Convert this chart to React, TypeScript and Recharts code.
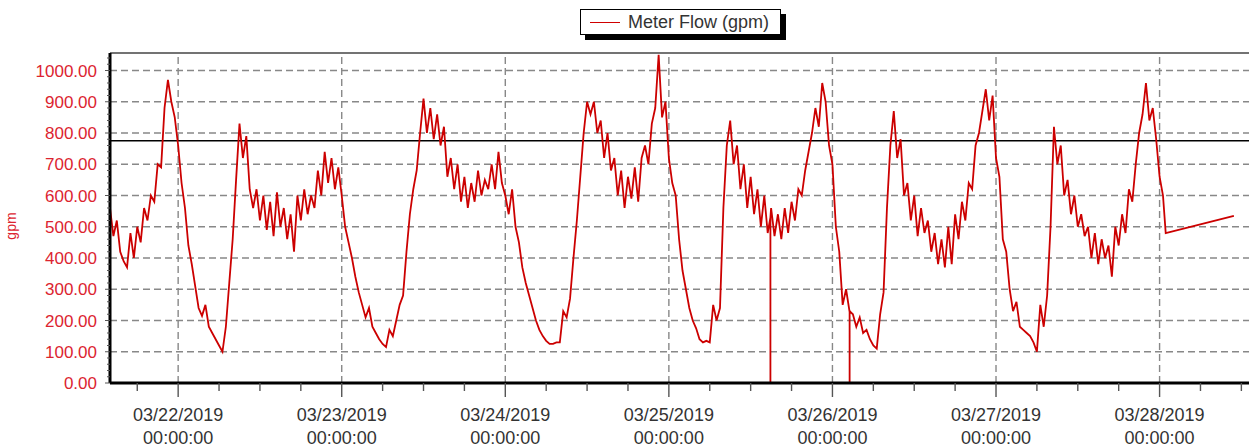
import React from 'react';
import { LineChart, Line, XAxis, YAxis, ReferenceLine } from 'recharts';

// Hours relative to 03/22/2019 00:00:00; series sampled every 30 minutes
const startHour = -10;
const stepHours = 0.5;

const flow0321 = [560, 470, 520, 420, 390, 370, 480, 400, 500, 450, 560, 520, 600, 580, 700, 690, 880, 970, 900, 850];
const flow0322 = [
  760, 640, 560, 440, 380, 310, 240, 215, 250, 180, 160, 140,
  120, 100, 180, 320, 460, 650, 830, 720, 790, 620, 560, 620,
  520, 600, 490, 580, 470, 610, 500, 560, 460, 540, 420, 600,
  520, 620, 540, 600, 560, 680, 600, 740, 640, 720, 620, 690,
];
const flow0323 = [
  600, 500, 450, 400, 340, 290, 250, 210, 240, 180, 160, 140,
  125, 115, 170, 150, 200, 250, 280, 420, 540, 620, 680, 800,
  910, 800, 880, 780, 860, 760, 820, 660, 720, 620, 700, 580,
  660, 560, 640, 580, 680, 600, 650, 620, 700, 620, 740, 640,
];
const flow0324 = [
  600, 540, 620, 500, 450, 370, 320, 280, 240, 200, 170, 150,
  135, 125, 125, 130, 130, 230, 210, 270, 400, 520, 660, 800,
  900, 860, 900, 800, 840, 720, 800, 680, 720, 600, 680, 560,
  660, 590, 690, 580, 720, 760, 700, 830, 880, 1050, 850, 900,
];
const flow0325 = [
  720, 640, 600, 460, 360, 300, 240, 200, 175, 140, 130, 135,
  130, 250, 200, 240, 560, 760, 840, 700, 760, 620, 700, 560,
  660, 540, 620, 500, 600, 480, 560, 470, 540, 460, 560, 480,
  580, 520, 620, 600, 680, 740, 800, 880, 820, 960, 900, 760,
];
const flow0326 = [
  700, 500, 420, 250, 300, 230, 220, 180, 210, 160, 170, 140,
  120, 110, 220, 290, 560, 760, 870, 720, 780, 600, 640, 520,
  600, 470, 560, 480, 520, 420, 480, 380, 460, 370, 500, 380,
  540, 460, 580, 520, 640, 620, 760, 800, 870, 940, 840, 920,
];
const flow0327 = [
  720, 660, 460, 420, 300, 230, 260, 180, 170, 160, 150, 130,
  100, 250, 180, 280, 500, 820, 700, 760, 600, 650, 540, 600,
  500, 540, 470, 500, 400, 480, 380, 460, 400, 440, 340, 500,
  440, 540, 480, 620, 580, 700, 800, 860, 960, 840, 880, 780,
];
const flow0328 = [660, 600];

// momentary drops to zero (hour, level around the drop)
const dropoutHours = [86.9, 98.52];
const dropoutLevels = [530, 230];

// straight segment at the end of the record
const tailHours = [144.9, 154.9];
const tailValues = [480, 535];

const thresholdValue = 775;
const yMax = 1056;
const xDomain = [-10, 158];

const dayTicks = [0, 24, 48, 72, 96, 120, 144];
const dayLabels = ['03/22/2019', '03/23/2019', '03/24/2019', '03/25/2019', '03/26/2019', '03/27/2019', '03/28/2019'];
const timeLabel = '00:00:00';
const sixHourTicks = [-6, 0, 6, 12, 18, 24, 30, 36, 42, 48, 54, 60, 66, 72, 78, 84, 90, 96, 102, 108, 114, 120, 126, 132, 138, 144, 150, 156];
const yGridValues = [100, 200, 300, 400, 500, 600, 700, 800, 900, 1000];
const yTicks = Array.from({ length: 53 }, (_, i) => i * 20);

const seriesValues = [...flow0321, ...flow0322, ...flow0323, ...flow0324, ...flow0325, ...flow0326, ...flow0327, ...flow0328];
const points: { t: number; v: number }[] = seriesValues.map((v, i) => ({ t: startHour + i * stepHours, v }));
dropoutHours.forEach((t, i) => {
  points.push({ t, v: dropoutLevels[i] }, { t, v: 0 }, { t, v: dropoutLevels[i] });
});
tailHours.forEach((t, i) => points.push({ t, v: tailValues[i] }));
points.sort((a, b) => a.t - b.t);

const FONT = 'Liberation Sans, Arial, sans-serif';
const RED_TEXT = '#dc2430';
const LINE_RED = '#cc0000';
const GRID = '#888888';

const XTick = (props: any) => {
  const { x, y, payload } = props;
  const v = payload.value;
  const idx = dayTicks.indexOf(v);
  const major = idx >= 0;
  return (
    <g>
      <line x1={x} y1={y} x2={x} y2={y + (major ? 14 : 8)} stroke="#555" strokeWidth={1.4} />
      {major && (
        <text x={x} y={y} textAnchor="middle" fill="#333" fontSize={18} fontFamily={FONT}>
          <tspan x={x} dy={37.5}>{dayLabels[idx]}</tspan>
          <tspan x={x} dy={23.5}>{timeLabel}</tspan>
        </text>
      )}
    </g>
  );
};

const YTick = (props: any) => {
  const { x, y, payload } = props;
  const v = payload.value;
  const major = v % 100 === 0 && v <= 1000;
  return (
    <g>
      <line x1={x} y1={y} x2={x - (major ? 5 : 3)} y2={y} stroke="#555" strokeWidth={1} />
      {major && (
        <text x={x - 13} y={y} dy="0.36em" textAnchor="end" fill={RED_TEXT} fontSize={17} fontFamily={FONT}>
          {v.toFixed(2)}
        </text>
      )}
    </g>
  );
};

const GpmLabel = () => (
  <text x={16} y={226} transform="rotate(-90 16 226)" textAnchor="middle" fill={RED_TEXT} fontSize={14} fontFamily={FONT}>
    gpm
  </text>
);

export default function App() {
  return (
    <div style={{ position: 'fixed', left: 0, top: 0, width: 1249, height: 447, overflow: 'hidden', background: '#fff' }}>
      <LineChart width={1260} height={447} data={points} margin={{ top: 53, right: 5, bottom: 0, left: 0 }}>
        <XAxis
          dataKey="t"
          type="number"
          domain={xDomain}
          ticks={sixHourTicks}
          interval={0}
          height={64}
          tickSize={0}
          tickMargin={0}
          tickLine={false}
          axisLine={{ stroke: '#000', strokeWidth: 3 }}
          tick={<XTick />}
          allowDataOverflow
        />
        <YAxis
          type="number"
          domain={[0, yMax]}
          ticks={yTicks}
          interval={0}
          width={110}
          tickSize={0}
          tickMargin={0}
          tickLine={false}
          axisLine={{ stroke: '#000', strokeWidth: 3 }}
          tick={<YTick />}
          label={<GpmLabel />}
          allowDataOverflow
        />
        {yGridValues.map((v) => (
          <ReferenceLine key={'gy' + v} y={v} stroke={GRID} strokeWidth={1.4} strokeDasharray="7 4" />
        ))}
        {dayTicks.map((d) => (
          <ReferenceLine key={'gx' + d} x={d} stroke={GRID} strokeWidth={1.4} strokeDasharray="7 4" />
        ))}
        <ReferenceLine y={yMax} stroke="#444" strokeWidth={1.6} />
        <ReferenceLine y={thresholdValue} stroke="#000" strokeWidth={1.6} />
        <Line
          dataKey="v"
          type="linear"
          stroke={LINE_RED}
          strokeWidth={1.8}
          dot={false}
          activeDot={false}
          isAnimationActive={false}
        />
      </LineChart>
      <div
        style={{
          position: 'absolute',
          left: 580,
          top: 9,
          width: 201,
          height: 26,
          boxSizing: 'border-box',
          border: '1px solid #000',
          background: '#fff',
          boxShadow: '5px 5px 0 #000',
          display: 'flex',
          alignItems: 'center',
          fontFamily: FONT,
        }}
      >
        <div style={{ marginLeft: 9, width: 30, borderTop: '1.5px solid #d00000' }} />
        <span style={{ marginLeft: 8, fontSize: 18, color: '#333', lineHeight: 1 }}>Meter Flow (gpm)</span>
      </div>
    </div>
  );
}
